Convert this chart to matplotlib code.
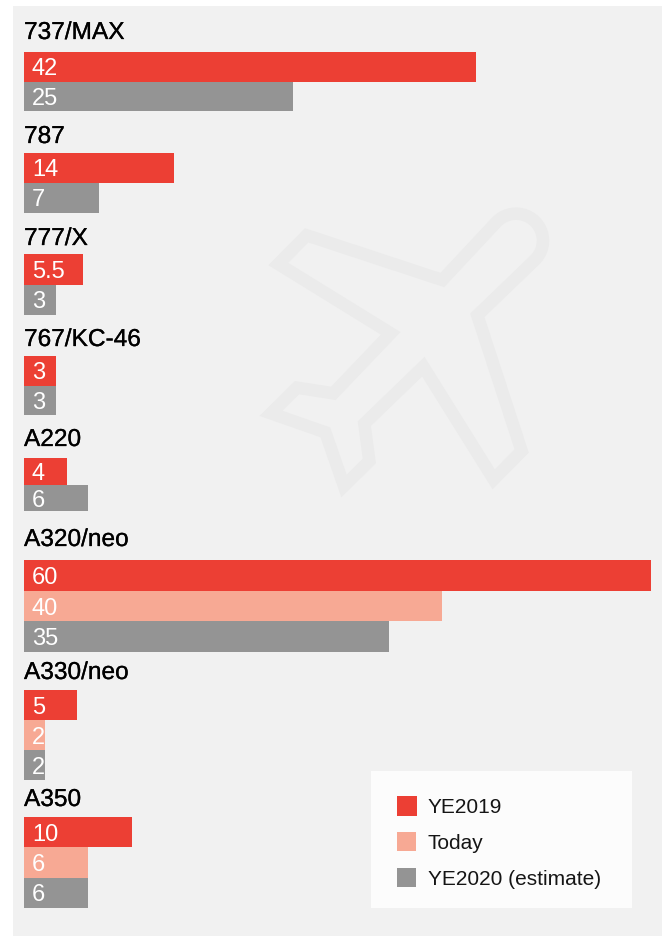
import numpy as np
import matplotlib
matplotlib.use("Agg")
import matplotlib.pyplot as plt
from matplotlib.patches import Rectangle, Polygon
import matplotlib.patheffects as pe

plt.rcParams["font.family"] = ["Liberation Sans", "DejaVu Sans"]

groups = ["737/MAX", "787", "777/X", "767/KC-46", "A220", "A320/neo", "A330/neo", "A350"]
ye2019 = [42, 14, 5.5, 3, 4, 60, 5, 10]
today = [None, None, None, None, None, 40, 2, 6]
ye2020 = [25, 7, 3, 3, 6, 35, 2, 6]
series_names = ["YE2019", "Today", "YE2020 (estimate)"]

RED, SALMON, GREY = "#ec3f34", "#f7a994", "#949494"
colors = [RED, SALMON, GREY]

W, H = 664, 937
# layout in pixels: top of each block, row height, label baseline, px per unit
block_top = [53, 154, 255, 357, 459, 561, 691, 818]
row_h = [29.7, 30, 30.5, 29.5, 26.7, 30.7, 30, 30.3]
label_base = [39, 143, 245, 346, 446, 546, 679, 806]
px_per_unit = [10.78, 10.78, 10.78, 10.78, 10.78, 10.45, 10.78, 10.8]
BAR_LEFT = 23.5

fig = plt.figure(figsize=(W / 100, H / 100), dpi=100, facecolor="white")

# background layer works in pixel coordinates
bg = fig.add_axes([0, 0, 1, 1])
bg.set_xlim(0, W)
bg.set_ylim(H - 1, -1)
bg.axis("off")
bg.add_patch(Rectangle((13, 6), 649, 935, fc="#f1f1f1", ec="none"))

# plane outline
def z(x, y):
    return (250 + x / 3, 190 + y / 3)

cx, cy, r = z(798, 152)[0], z(798, 152)[1], 27
arc = np.radians(np.linspace(225, 405, 24))
nose = [(cx + r * np.cos(a), cy + r * np.sin(a)) for a in arc]
plane = [z(170, 136), z(577, 270)] + nose + [
    z(682, 376), z(815, 783), z(731, 868), z(520, 530), z(343, 701),
    z(358, 813), z(282, 888), z(226, 727), z(63, 670), z(141, 593),
    z(250, 610), z(422, 430), z(85, 222),
]
bg.add_patch(Polygon(plane, closed=True, fc="none", ec="#ebebeb", lw=9, joinstyle="miter"))

for g, name in enumerate(groups):
    vals = [(v, c) for v, c in zip((ye2019[g], today[g], ye2020[g]), colors) if v is not None]
    h = row_h[g] * len(vals)
    ax = fig.add_axes([BAR_LEFT / W, 1 - (block_top[g] + h) / H, 636 / W, h / H])
    ax.set_xlim(0, 636 / px_per_unit[g])
    ax.set_ylim(len(vals), 0)
    ax.axis("off")
    for i, (v, c) in enumerate(vals):
        ax.barh(i + 0.5, v, height=1, color=c, linewidth=0)
        ax.annotate(f"{v:g}", xy=(0, i + 0.5), xytext=(8.5, 1), textcoords="offset pixels",
                    color="white", fontsize=17, va="center_baseline", ha="left")
    bg.text(24, label_base[g], name, fontsize=17.6, color="black", va="baseline", ha="left",
            path_effects=[pe.withStroke(linewidth=0.2, foreground="black")])

# legend box
bg.add_patch(Rectangle((371, 771), 261, 137, fc="#fcfcfc", ec="none"))
for name, c, top, size, base in zip(series_names, colors, (796, 832, 868), (20, 19, 19), (812, 848, 884)):
    bg.add_patch(Rectangle((397, top), size, size, fc=c, ec="none"))
    bg.text(428, base, name, fontsize=15, color="#151515", va="baseline", ha="left")

fig.savefig("out.png", dpi=100)
